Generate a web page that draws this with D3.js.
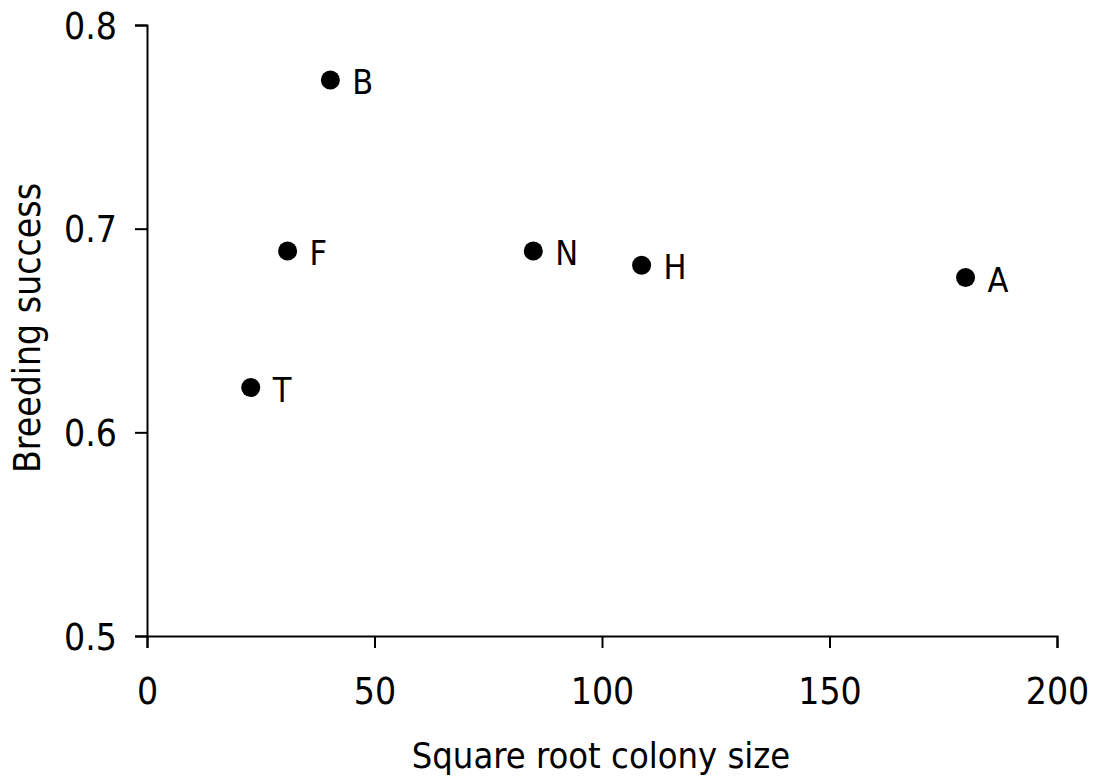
<!DOCTYPE html>
<html><head><meta charset="utf-8">
<script src="https://cdn.jsdelivr.net/npm/d3@7"></script>
<style>body{margin:0;background:#fff}svg{display:block}</style>
</head><body>
<svg id="c" width="1099" height="783"></svg>
<script>
const colonies = ["B","F","T","N","H","A"];
const sqrtSize = [40.3, 30.9, 22.8, 84.9, 108.7, 179.9];
const success = [0.773, 0.689, 0.622, 0.689, 0.682, 0.676];
const xTicks = [0, 50, 100, 150, 200];
const yTicks = [0.5, 0.6, 0.7, 0.8];
const xTitle = "Square root colony size";
const yTitle = "Breeding success";

const svg = d3.select("#c");
const m = {l:147, r:1057, t:25, b:636};
const x = d3.scaleLinear().domain([0,200]).range([m.l, m.r]);
const y = d3.scaleLinear().domain([0.5,0.8]).range([m.b, m.t]);
const font = "'DejaVu Sans Condensed', 'DejaVu Sans'";

const gx = svg.append("g").attr("transform",`translate(0,${m.b})`)
  .call(d3.axisBottom(x).tickValues(xTicks).tickSize(12).tickPadding(30).tickFormat(d3.format("d")));
const gy = svg.append("g").attr("transform",`translate(${m.l},0)`)
  .call(d3.axisLeft(y).tickValues(yTicks).tickSize(12).tickPadding(18).tickFormat(d3.format(".1f")));
[gx,gy].forEach(g=>{
  g.select(".domain").attr("stroke","#000").attr("stroke-width",2);
  g.selectAll(".tick line").attr("stroke","#000").attr("stroke-width",2);
  g.selectAll(".tick text").attr("fill","#000").style("font-family",font).style("font-size","37px");
});
gy.selectAll(".tick text").attr("dy","0.36em");
gx.selectAll(".tick text").attr("dy","0.71em");

const data = colonies.map((c,i)=>({c, x:sqrtSize[i], y:success[i]}));
svg.selectAll("circle.pt").data(data).join("circle").attr("class","pt")
  .attr("cx",d=>x(d.x)).attr("cy",d=>y(d.y)).attr("r",9.5).attr("fill","#000");
svg.selectAll("text.lbl").data(data).join("text").attr("class","lbl")
  .attr("x",d=>x(d.x)+22).attr("y",d=>y(d.y)+14)
  .style("font-family",font).style("font-size","34px").attr("fill","#000").text(d=>d.c);

svg.append("text").attr("x",601).attr("y",768).attr("text-anchor","middle")
  .style("font-family",font).style("font-size","36px").text(xTitle);
svg.append("text").attr("transform",`translate(40,328) rotate(-90)`).attr("text-anchor","middle")
  .style("font-family",font).style("font-size","37px").text(yTitle);
</script>
</body></html>
